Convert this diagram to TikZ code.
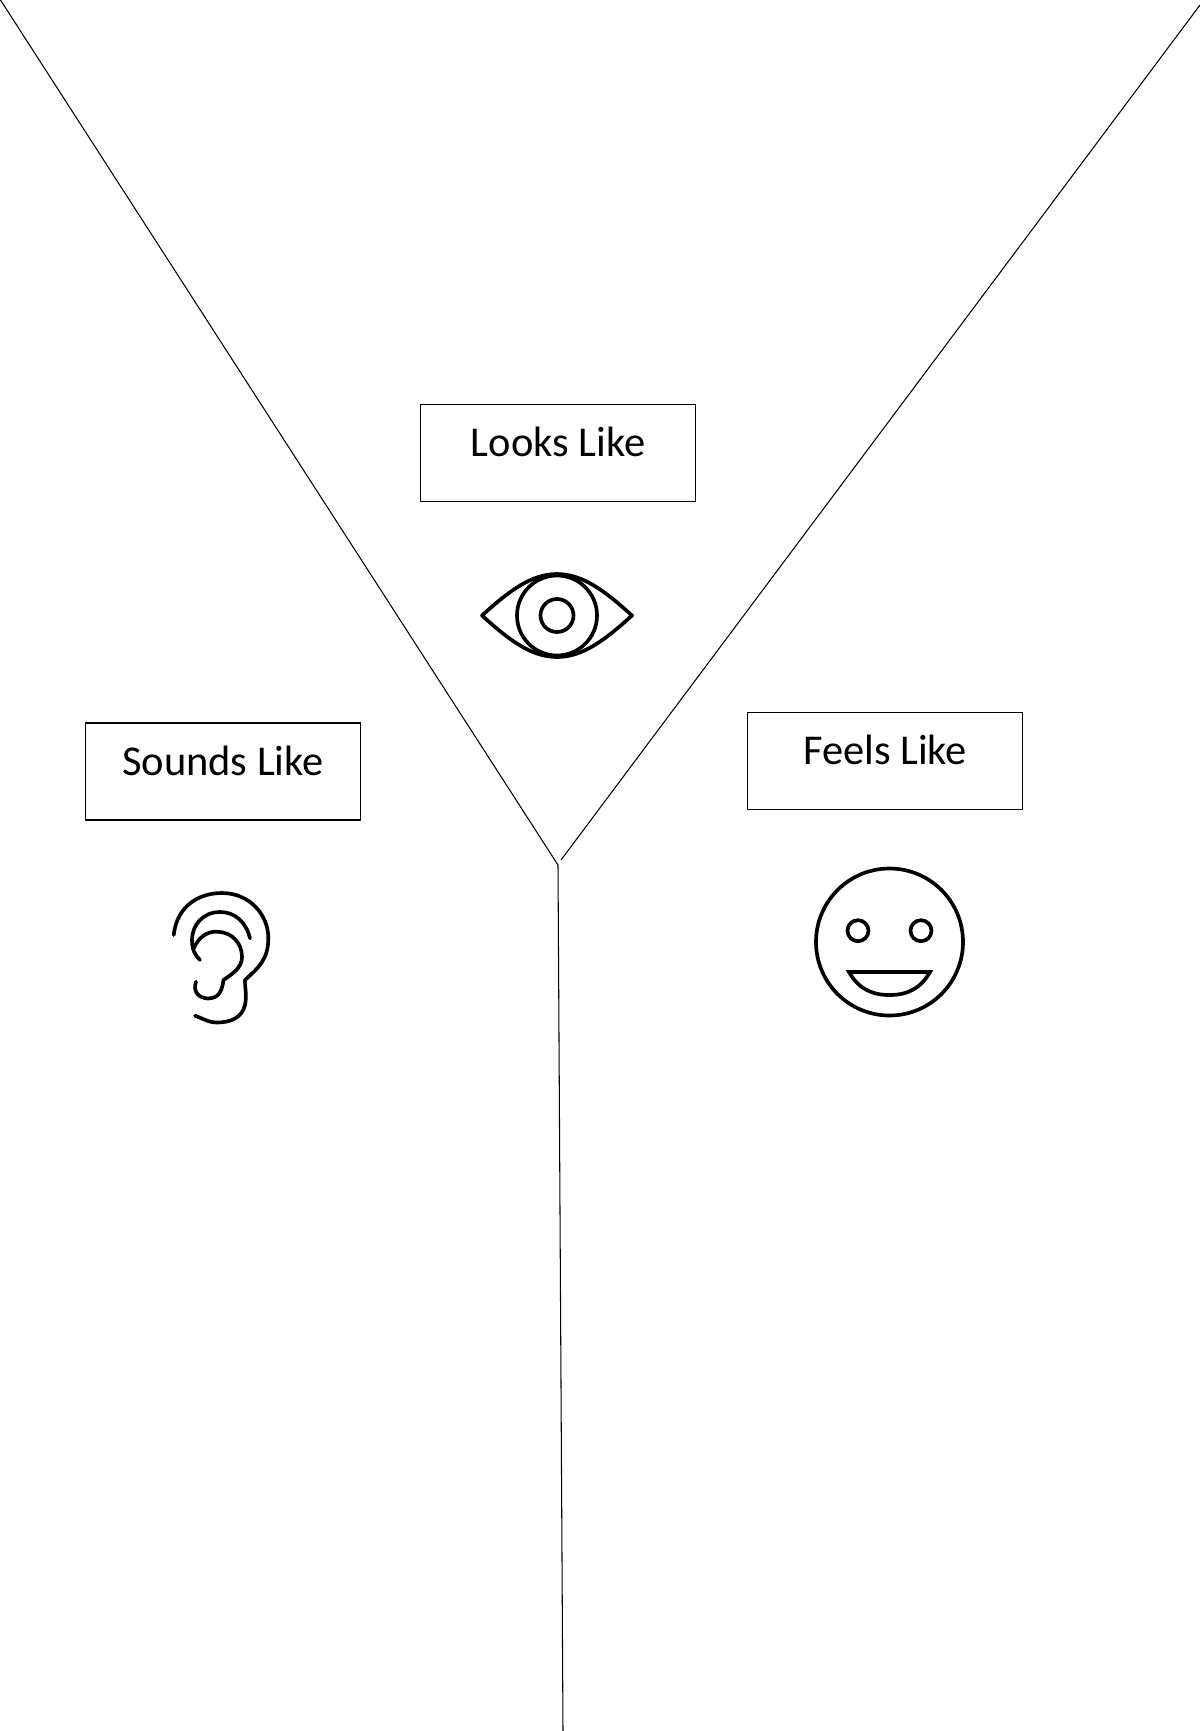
\documentclass[tikz,border=0pt]{standalone}
\usepackage{fontspec}
\setmainfont{Carlito}
\usetikzlibrary{positioning}

\begin{document}
\begin{tikzpicture}[
        x=0.025cm, y=-0.025cm,
        labelbox/.style={rectangle, draw=black, line width=1.25pt, minimum width=6.875cm, inner xsep=0pt, inner ysep=0pt, text height=1.3cm, text depth=1.125cm, font=\fontsize{30.2}{33}\selectfont},
        fork/.style={draw=black, line width=0.75pt},
        icon/.style={draw=black, line width=2.6pt, line cap=round, line join=round}
    ]
        \useasboundingbox (0,0) rectangle (1200,1731);

        % Fork
        \coordinate (topleft) at (0.5,0);
        \coordinate (topright) at (1200,5);
        \coordinate (joint) at (558,865);
        \coordinate (gap) at (561,860);
        \coordinate (bottom) at (563,1731);
        \draw[fork] (topleft) -- (joint) -- (bottom);
        \draw[fork] (topright) -- (gap);

        % Labels
        \node[labelbox] (looks) at (558,453) {Looks Like};
        \node[labelbox] (sounds) at (223,771.5) {Sounds Like};
        \node[labelbox] (feels) at (885,761) {Feels Like};

        % Eye
        \draw[icon] (482,615.5) .. controls (510,590) and (532,574) .. (557,574) .. controls (582,574) and (604,590) .. (632,615.5) .. controls (604,641) and (582,657) .. (557,657) .. controls (532,657) and (510,641) .. (482,615.5) -- cycle;
        \draw[icon] (557,615.5) circle (40);
        \draw[icon] (557,615.5) circle (16.5);

        % Ear
        \draw[icon] (173.7,935) .. controls (177,905) and (200,893) .. (221.7,893) .. controls (250,893) and (268.3,915) .. (268.3,938) .. controls (268.3,960) and (258,968) .. (245,980) .. controls (245,990) and (247,995) .. (245,1005) .. controls (242,1018) and (230,1022.5) .. (217,1022.5) .. controls (208,1022.5) and (202,1018) .. (195,1015.7);
        \draw[icon] (250,938.3) .. controls (246,922) and (235,912) .. (220,912) .. controls (203,912) and (192,925) .. (192,940) .. controls (192,950) and (195,955) .. (200,960);
        \draw[icon] (194,948) .. controls (198,938) and (207,931) .. (217,931.7) .. controls (232,932) and (242,943) .. (242,957) .. controls (242,968) and (232,974) .. (223.5,980) .. controls (222,990) and (220,998) .. (208,998.5) .. controls (197,998) and (193,990) .. (196,981.7);

        % Face
        \draw[icon] (889.5,942) circle (73.5);
        \draw[icon] (858,930.7) circle (10.5);
        \draw[icon] (921,930.7) circle (10.5);
        \draw[icon, line join=miter] (849,972) -- (930,972) .. controls (921,988) and (908,995) .. (889.5,995) .. controls (871,995) and (858,988) .. (849,972) -- cycle;
    \end{tikzpicture}
\end{document}
